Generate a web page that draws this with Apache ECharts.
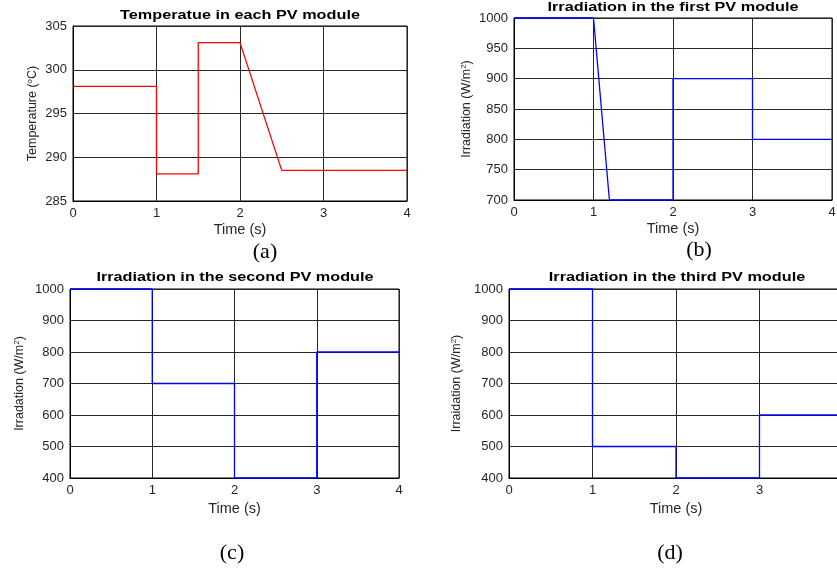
<!DOCTYPE html>
<html>
<head>
<meta charset="utf-8">
<script src="https://cdn.jsdelivr.net/npm/echarts@6/dist/echarts.min.js"></script>
<style>
html,body{margin:0;padding:0;background:#fff;}
#chart{width:837px;height:568px;}
</style>
</head>
<body>
<div id="chart"></div>
<script>
// ---- data ----
const titles = [
  'Temperatue in each PV module',
  'Irradiation in the first PV module',
  'Irradiation in the second PV module',
  'Irradiation in the third PV module'
];
const panelLabels = ['(a)', '(b)', '(c)', '(d)'];
const xAxisName = 'Time (s)';

const tempTime   = [0, 1, 1, 1.5, 1.5, 2, 2.5, 4];
const tempValues = [298.1, 298.1, 288.1, 288.1, 303.1, 303.1, 288.5, 288.5];

const irr1Time   = [0, 1, 1.2, 2, 2, 3, 3, 4];
const irr1Values = [1000, 1000, 700, 700, 900, 900, 800, 800];

const irr2Time   = [0, 1, 1, 2, 2, 3, 3, 4];
const irr2Values = [1000, 1000, 700, 700, 400, 400, 800, 800];

const irr3Time   = [0, 1, 1, 2, 2, 3, 3, 4];
const irr3Values = [1000, 1000, 500, 500, 400, 400, 600, 600];

const yRanges = [[285, 305, 5], [700, 1000, 50], [400, 1000, 100], [400, 1000, 100]];
const xRange = [0, 4, 1];

// ---- layout ----
const grids = [
  {left: 73, top: 26, width: 334, height: 175},
  {left: 514, top: 18, width: 318, height: 182},
  {left: 70, top: 289, width: 329, height: 189},
  {left: 509, top: 289, width: 334, height: 189}
];
const titlePos = [[240, 16], [673, 8], [235, 278], [677, 278]];
const labelPos = [[265, 252], [699, 250], [232, 553], [670, 553]];
const tickFont = 13;
const yNames = [
  'Temperature ({sup|o}C)',
  'Irradiation (W/m{sup|2})',
  'Irradation (W/m{sup|2})',
  'Irraidation (W/m{sup|2})'
];
const yNameGaps = [34, 41, 44, 46];
const xNameGaps = [21, 21, 23, 23];
const seriesData = [
  [tempTime, tempValues, '#ff0000'],
  [irr1Time, irr1Values, '#0000ff'],
  [irr2Time, irr2Values, '#0000ff'],
  [irr3Time, irr3Values, '#0000ff']
];

const FONT = 'Liberation Sans, Arial, sans-serif';

const option = {
  backgroundColor: '#fff',
  animation: false,
  grid: grids.map(g => Object.assign({show: true, borderColor: '#000', borderWidth: 1,
                                      containLabel: false, outerBoundsMode: 'none'}, g)),
  xAxis: grids.map((g, i) => ({
    type: 'value', gridIndex: i,
    min: xRange[0], max: xRange[1], interval: xRange[2],
    name: xAxisName, nameLocation: 'middle', nameGap: xNameGaps[i],
    nameTextStyle: {color: '#262626', fontSize: 14.5, fontFamily: FONT},
    axisLine: {show: true, onZero: false, lineStyle: {color: '#000', width: 1}},
    axisTick: {show: false},
    axisLabel: {margin: 6, color: '#262626', fontSize: tickFont, fontFamily: FONT,
                formatter: v => String(v)},
    splitLine: {show: true, lineStyle: {color: '#262626', width: 1}}
  })),
  yAxis: grids.map((g, i) => ({
    type: 'value', gridIndex: i,
    min: yRanges[i][0], max: yRanges[i][1], interval: yRanges[i][2],
    name: yNames[i], nameLocation: 'middle', nameGap: yNameGaps[i],
    nameTextStyle: {
      color: '#262626', fontSize: 12.5, fontFamily: FONT,
      rich: {sup: {fontSize: 8, verticalAlign: 'top', lineHeight: 10, color: '#262626', fontFamily: FONT}}
    },
    axisLine: {show: true, onZero: false, lineStyle: {color: '#000', width: 1}},
    axisTick: {show: false},
    axisLabel: {margin: 6, color: '#262626', fontSize: tickFont, fontFamily: FONT,
                formatter: v => String(v)},
    splitLine: {show: true, lineStyle: {color: '#262626', width: 1}}
  })),
  series: seriesData.map((s, i) => ({
    type: 'line', xAxisIndex: i, yAxisIndex: i,
    data: s[0].map((t, k) => [t, s[1][k]]),
    showSymbol: false, symbol: 'none',
    lineStyle: {color: s[2], width: 1.3},
    itemStyle: {color: s[2]},
    clip: false, z: 5
  })),
  graphic: titles.map((t, i) => ({
    type: 'text',
    x: titlePos[i][0], y: titlePos[i][1], scaleX: 1.3,
    style: {text: t, fill: '#000', font: 'bold 12.5px "Liberation Sans", Arial, sans-serif',
            textAlign: 'center', textVerticalAlign: 'middle'}
  })).concat(panelLabels.map((t, i) => ({
    type: 'text',
    x: labelPos[i][0], y: labelPos[i][1],
    style: {text: t, fill: '#000', font: '22px "Liberation Serif", "Times New Roman", serif',
            textAlign: 'center', textVerticalAlign: 'middle'}
  })))
};

const chart = echarts.init(document.getElementById('chart'), null, {renderer: 'canvas'});
chart.setOption(option);
</script>
</body>
</html>
